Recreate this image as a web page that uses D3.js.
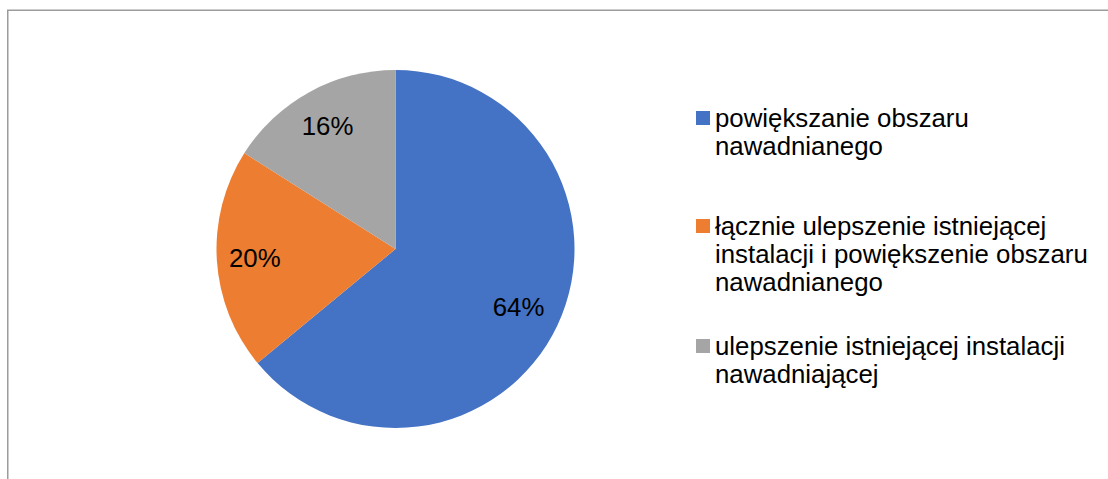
<!DOCTYPE html>
<html>
<head>
<meta charset="utf-8">
<script src="https://cdn.jsdelivr.net/npm/d3@7"></script>
<style>
  html, body { margin: 0; padding: 0; background: #fff; }
  svg { display: block; font-family: "Liberation Sans", Arial, sans-serif; }
</style>
</head>
<body>
<svg id="chart" width="1108" height="479"></svg>
<script>
// Share of responses per type of irrigation investment (%)
const categories = [
  "powiększanie obszaru nawadnianego",
  "łącznie ulepszenie istniejącej instalacji i powiększenie obszaru nawadnianego",
  "ulepszenie istniejącej instalacji nawadniającej"
];
const values = [64, 20, 16];
const valueLabels = ["64%", "20%", "16%"];
// Legend text split into display lines
const legendLines = [
  ["powiększanie obszaru", "nawadnianego"],
  ["łącznie ulepszenie istniejącej", "instalacji i powiększenie obszaru", "nawadnianego"],
  ["ulepszenie istniejącej instalacji", "nawadniającej"]
];
const colors = ["#4472C4", "#ED7D31", "#A5A5A5"];

const svg = d3.select("#chart");

// Chart frame
svg.append("rect")
  .attr("x", 7.75).attr("y", 10.25)
  .attr("width", 1200).attr("height", 600)
  .attr("fill", "none")
  .attr("stroke", "#9c9c9c")
  .attr("stroke-width", 1.5);

const cx = 395.5, cy = 249, r = 179;
const labelRadius = [136, 141, 141];

const pie = d3.pie().sort(null).value(d => d);
const arcs = pie(values);
const arc = d3.arc().innerRadius(0).outerRadius(r);

const g = svg.append("g").attr("transform", `translate(${cx},${cy})`);

g.selectAll("path.slice")
  .data(arcs)
  .join("path")
  .attr("class", "slice")
  .attr("d", arc)
  .attr("fill", (d, i) => colors[i]);

g.selectAll("text.val")
  .data(arcs)
  .join("text")
  .attr("class", "val")
  .attr("transform", (d, i) => {
    const la = d3.arc().innerRadius(labelRadius[i]).outerRadius(labelRadius[i]);
    const [x, y] = la.centroid(d);
    return `translate(${x},${y})`;
  })
  .attr("text-anchor", "middle")
  .attr("dy", "0.36em")
  .attr("font-size", 25.8)
  .attr("fill", "#000")
  .text((d, i) => valueLabels[i]);

// Legend
const legendTop = [127, 235, 355];
const lineH = 28;
const legend = svg.append("g");
legendLines.forEach((lines, i) => {
  const item = legend.append("g");
  item.append("rect")
    .attr("x", 696).attr("y", legendTop[i] - 16)
    .attr("width", 14).attr("height", 14)
    .attr("fill", colors[i]);
  const t = item.append("text")
    .attr("x", 715).attr("y", legendTop[i])
    .attr("font-size", 25.8)
    .attr("fill", "#000");
  lines.forEach((ln, j) => {
    t.append("tspan")
      .attr("x", 715)
      .attr("y", legendTop[i] + j * lineH)
      .text(ln);
  });
});
</script>
</body>
</html>
